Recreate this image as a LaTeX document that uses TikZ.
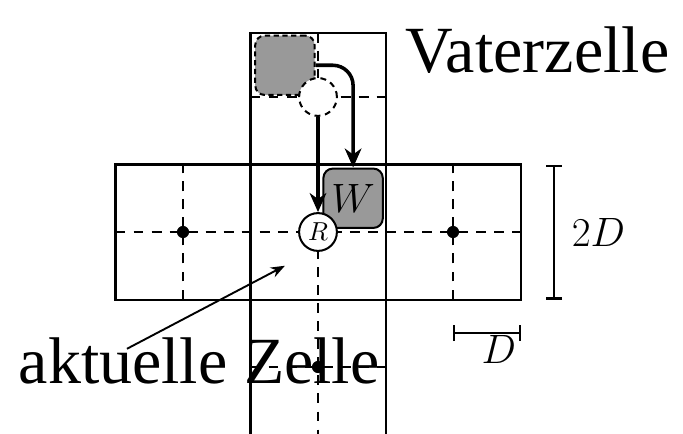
\documentclass[tikz,border=0pt]{standalone}
\usepackage{fontspec}
\setmainfont{Liberation Serif}
\usetikzlibrary{arrows.meta,positioning,calc}

\begin{document}
\begin{tikzpicture}[>=Stealth,
  gitter/.style={line width=0.85pt},
  mitte/.style={line width=0.85pt,dash pattern=on 4.2pt off 3.4pt},
  pfad/.style={line width=1.5pt,-{Stealth[length=8pt,width=7pt,inset=2.5pt]}},
  kasten/.style={draw,fill=gray!80,rounded corners=4pt,minimum size=0.88cm,inner sep=0pt,line width=0.85pt},
  kreis/.style={draw,circle,fill=white,minimum size=0.56cm,inner sep=0pt,line width=0.85pt},
  gross/.style={font=\fontsize{27.8}{30}\selectfont,inner sep=0pt},
  mathe/.style={font=\fontsize{17.7}{20}\selectfont,inner sep=0pt}]
  \useasboundingbox (-4.711,-2.978) rectangle (5.407,3.437);
  % Zellen
  \draw[gitter] (-3,-1) rectangle (3,1);
  \draw[gitter] (-1,-3.1) -- (-1,2.95) -- (1,2.95) -- (1,-3.1);
  \draw[mitte] (-3,0) -- (3,0) (-1,2) -- (1,2) (-1,-2) -- (1,-2);
  \draw[mitte] (0,2.95) -- (0,-3.1) (-2,-1) -- (-2,1) (2,-1) -- (2,1);
  \foreach \p in {(-2,0),(2,0),(0,-2)} \fill \p circle (0.09);
  % Teilchen
  \node[kasten,dash pattern=on 2.2pt off 1.5pt] (vater) at (-0.49,2.47) {};
  \node[kreis,dash pattern=on 2.5pt off 2pt] (alt) at (0,2) {};
  \node[kasten,mathe] (w) at (0.52,0.5) {$W$};
  \node[kreis,font=\fontsize{10.5}{12}\selectfont] (r) at (0,0) {$R$};
  \draw[pfad] (alt.south) -- (r.north);
  \draw[pfad,rounded corners=0.3cm] (vater.east) -| (w.north);
  % Masse
  \draw[gitter,{Bar[width=6.7pt]}-{Bar[width=6.7pt]}] (3.5,1) -- (3.5,-1)
     node[midway,right=7pt,mathe]{$2D$};
  \draw[gitter,{Bar[width=6.7pt]}-{Bar[width=6.7pt]}] (2,-1.5) -- (3,-1.5)
     node[pos=0.68,below=0.5pt,mathe]{$D$};
  % Beschriftung
  \node[gross,anchor=base west] (vz) at (1.29,2.36) {Vaterzelle};
  \node[gross,anchor=base west] (akt) at (-4.44,-2.24) {aktuelle Zelle};
  \coordinate (zeigerfuss) at (-2.83,-1.73);
  \coordinate (zeigerkopf) at (-0.49,-0.50);
  \draw[line width=0.8pt,-{Stealth[length=6pt,width=4.5pt]}] (zeigerfuss) -- (zeigerkopf);
\end{tikzpicture}
\end{document}
